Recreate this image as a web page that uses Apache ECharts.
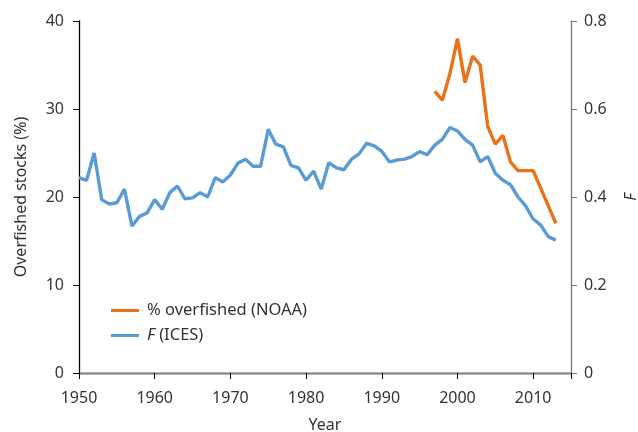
<!DOCTYPE html>
<html><head><meta charset="utf-8">
<script src="https://cdn.jsdelivr.net/npm/echarts@6/dist/echarts.min.js"></script>
<style>html,body{margin:0;padding:0;background:#fff}#c{width:638px;height:432px}</style>
</head><body><div id="c"></div>
<script>
const yearsF = [1950,1951,1952,1953,1954,1955,1956,1957,1958,1959,1960,1961,1962,1963,1964,1965,1966,1967,1968,1969,1970,1971,1972,1973,1974,1975,1976,1977,1978,1979,1980,1981,1982,1983,1984,1985,1986,1987,1988,1989,1990,1991,1992,1993,1994,1995,1996,1997,1998,1999,2000,2001,2002,2003,2004,2005,2006,2007,2008,2009,2010,2011,2012,2013];
const fICES = [0.444,0.438,0.500,0.394,0.384,0.387,0.418,0.334,0.356,0.364,0.394,0.372,0.410,0.425,0.396,0.398,0.410,0.400,0.444,0.434,0.450,0.477,0.486,0.470,0.470,0.554,0.520,0.514,0.472,0.466,0.438,0.459,0.418,0.478,0.466,0.462,0.486,0.498,0.522,0.516,0.504,0.480,0.484,0.486,0.492,0.503,0.496,0.518,0.531,0.558,0.550,0.531,0.518,0.480,0.492,0.454,0.438,0.428,0.400,0.380,0.350,0.336,0.310,0.302];
const yearsNOAA = [1997,1998,1999,2000,2001,2002,2003,2004,2005,2006,2007,2008,2009,2010,2011,2012,2013];
const pctNOAA = [32,31,34,38,33,36,35,28,26,27,24,23,23,23,21,19,17];
const leftTicks = [0,10,20,30,40];
const rightTicks = [0,0.2,0.4,0.6,0.8];
const xTicks = [1950,1960,1970,1980,1990,2000,2010];

const FONT = '"Noto Sans", "Open Sans", sans-serif';
const chart = echarts.init(document.getElementById('c'));
chart.setOption({
  animation:false,
  textStyle:{fontFamily:FONT},
  grid:{left:79,right:67,top:21,bottom:59,outerBoundsMode:'none',containLabel:false},
  legend:{
    orient:'vertical', left:106, top:297, itemGap:8,
    itemWidth:28, itemHeight:3, icon:'rect',
    textStyle:{fontSize:16.5,color:'#333',fontFamily:FONT,padding:[0,0,0,3],
      rich:{i:{fontStyle:'italic',fontSize:16.5,color:'#333',fontFamily:FONT}}},
    formatter:function(n){ return n==='F (ICES)' ? '{i|F} (ICES)' : n; },
    data:['% overfished (NOAA)','F (ICES)']
  },
  xAxis:[{
    type:'value', min:1950, max:2015, interval:10,
    name:'Year', nameLocation:'middle', nameGap:44,
    nameTextStyle:{fontSize:16,color:'#333'},
    axisLine:{lineStyle:{color:'#000',width:1.3}},
    axisTick:{length:6,lineStyle:{color:'#000'}},
    axisLabel:{fontSize:16,color:'#333',margin:17,
      formatter:function(v){return xTicks.indexOf(v)>=0?String(v):'';}},
    splitLine:{show:false}
  },{
    type:'value', min:1950, max:2015, position:'top',
    axisLine:{show:true,lineStyle:{color:'#888',width:1.3}},
    axisTick:{show:false}, axisLabel:{show:false}, splitLine:{show:false}
  }],
  yAxis:[{
    type:'value', min:0, max:40, interval:10,
    name:'Overfished stocks (%)', nameLocation:'middle', nameGap:50,
    nameTextStyle:{fontSize:16,color:'#333'},
    axisLine:{show:true,lineStyle:{color:'#000',width:1.3}},
    axisTick:{show:true,length:6,lineStyle:{color:'#000'}},
    axisLabel:{fontSize:16,color:'#333',margin:15,
      formatter:function(v){return leftTicks.indexOf(v)>=0?String(v):'';}},
    splitLine:{show:false}
  },{
    type:'value', min:0, max:0.8, interval:0.2, position:'right',
    name:'F', nameLocation:'middle', nameGap:52,
    nameTextStyle:{fontSize:16,color:'#333',fontStyle:'italic'},
    axisLine:{show:true,lineStyle:{color:'#777',width:1.3}},
    axisTick:{show:true,length:6,lineStyle:{color:'#777'}},
    axisLabel:{fontSize:16,color:'#333',margin:13,
      formatter:function(v){var r=Math.round(v*10)/10;return r===0?'0':r.toFixed(1);}},
    splitLine:{show:false}
  }],
  series:[{
    name:'% overfished (NOAA)', type:'line', yAxisIndex:0, xAxisIndex:0,
    data:yearsNOAA.map((y,i)=>[y,pctNOAA[i]]),
    showSymbol:false, symbol:'none',
    lineStyle:{color:'#E8711A',width:3.4}, itemStyle:{color:'#E8711A'}
  },{
    name:'F (ICES)', type:'line', yAxisIndex:1, xAxisIndex:0,
    data:yearsF.map((y,i)=>[y,fICES[i]]),
    showSymbol:false, symbol:'none',
    lineStyle:{color:'#5B9BD5',width:3.4}, itemStyle:{color:'#5B9BD5'}
  }]
});
</script></body></html>
